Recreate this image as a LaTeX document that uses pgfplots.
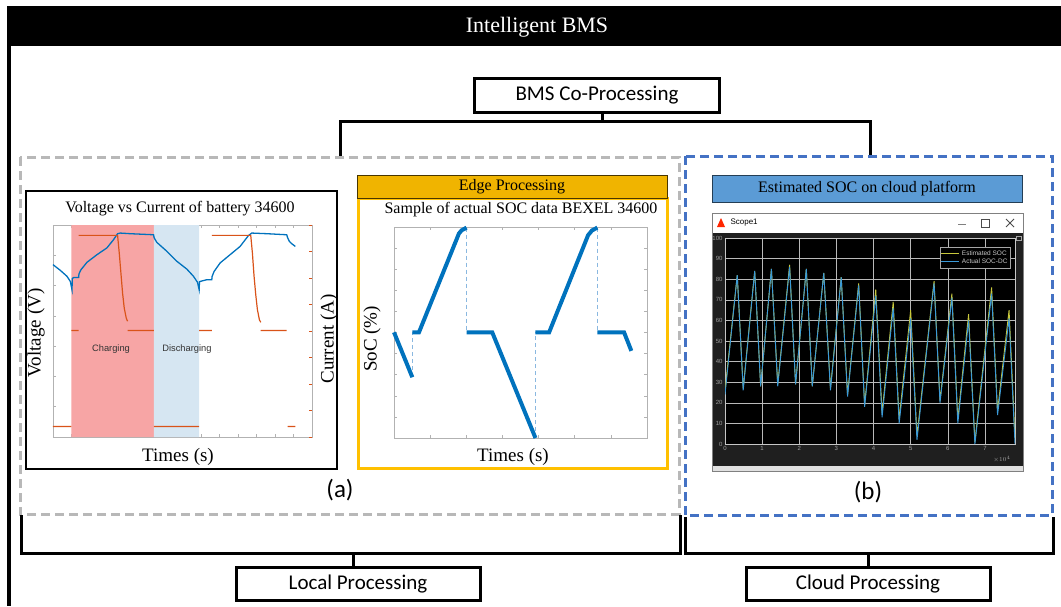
\documentclass[border=0pt]{standalone}
\usepackage{pgfplots}
\pgfplotsset{compat=1.18}
\usepackage{fontspec}
\setmainfont{Liberation Serif}
\newfontfamily\calfont{Carlito}
\newfontfamily\ari{Liberation Sans}
\newcommand\fs[1]{\fontsize{#1}{#1}\selectfont}
\definecolor{mblue}{HTML}{0072BD}
\definecolor{morange}{HTML}{D95319}
\definecolor{shred}{HTML}{F7A5A5}
\definecolor{shblue}{HTML}{D6E6F2}
\definecolor{gold}{HTML}{F0B400}
\definecolor{goldborder}{HTML}{FFC000}
\definecolor{hdrblue}{HTML}{5B9BD5}
\definecolor{dashgray}{HTML}{B8B8B8}
\definecolor{dashblue}{HTML}{4472C4}
\definecolor{scyel}{HTML}{C8C83C}
\definecolor{scblue}{HTML}{3A9AD9}
\definecolor{dashlight}{HTML}{8AB8E0}
\begin{document}
\begin{tikzpicture}
\useasboundingbox (0pt,0pt) rectangle (1061pt,-606pt);
\begin{scope}[x=1pt,y=-1pt]
% title bar and frame
\fill[black] (7,6) rectangle (1061,46);
\node[text=white,font=\fs{22}] at (537,27) {Intelligent BMS};
\draw[line width=3.5pt] (9,46) -- (9,606);
% BMS co-processing
\draw[line width=3pt] (474,78) rectangle (719,112);
\node[font=\calfont\fs{21}] at (597,95) {BMS Co-Processing};
\draw[line width=3pt] (602,112) -- (602,121);
\draw[line width=3pt] (340,156) -- (340,121) -- (870,121) -- (870,156);
% dashed boxes
\draw[dashgray,line width=3pt,dash pattern=on 9pt off 5pt] (20,157) rectangle (679,514);
\draw[dashblue,line width=3pt,dash pattern=on 9pt off 5pt] (685,156) rectangle (1052,515);
% bottom brackets
\draw[line width=3pt] (21,515) -- (21,553) -- (680,553) -- (680,515);
\draw[line width=3pt] (685,517) -- (685,553) -- (1053,553) -- (1053,517);
\draw[line width=3pt] (353,553) -- (353,567);
\draw[line width=3pt] (868,553) -- (868,567);
\draw[line width=3pt] (236,567) rectangle (480,600);
\node[font=\calfont\fs{21}] at (358,584) {Local Processing};
\draw[line width=3pt] (746,567) rectangle (990,600);
\node[font=\calfont\fs{21}] at (868,584) {Cloud Processing};
\node[font=\calfont\fs{25}] at (340,490) {(a)};
\node[font=\calfont\fs{25}] at (868,492) {(b)};
% left panel
\draw[line width=1.5pt] (26,191) rectangle (337,469);
\node[font=\fs{16}] at (180,209) {Voltage vs Current of battery 34600};
\node[font=\fs{19},rotate=90] at (36,333) {Voltage (V)};
\node[font=\fs{19},rotate=90] at (329,339) {Current (A)};
\node[font=\fs{19}] at (178,457) {Times (s)};
% middle panel
\draw[goldborder,line width=3pt] (358,198) rectangle (667,468);
\draw[fill=gold,draw=black!70!gold,line width=1pt] (357,175) rectangle (667,198);
\node[font=\fs{16}] at (512,186.5) {Edge Processing};
\node[font=\fs{16}] at (521,210) {Sample of actual SOC data BEXEL 34600};
\node[font=\fs{19},rotate=90] at (372,339) {SoC (\%)};
\node[font=\fs{19}] at (513,457) {Times (s)};
% right panel
\draw[fill=hdrblue,draw=black!60!hdrblue,line width=1pt] (712,175) rectangle (1022,202);
\node[font=\fs{16}] at (867,189) {Estimated SOC on cloud platform};
\draw[fill=black!88,draw=gray,line width=1pt] (712,213) rectangle (1023,471);
\fill[white] (712.5,213.5) rectangle (1022.5,233);
\fill[black!12] (712.5,466) rectangle (1022.5,470.5);
\fill[red!70!orange] (717,227) -- (721,218) -- (725,227) -- cycle;
\node[font=\ari\fs{8},anchor=west] at (727,223) {Scope1};
\draw[gray,line width=0.8pt] (958,224) -- (966,224);
\draw[black!70,line width=0.8pt] (981,219) rectangle (989,227);
\draw[black!70,line width=0.8pt] (1006,219) -- (1014,227) (1006,227) -- (1014,219);
\draw[gray!70,line width=0.6pt] (1016,236) rectangle (1021,240);
\node[font=\ari\fs{6},text=gray!70,anchor=south east] at (1014,466) {$\times 10^4$};
\end{scope}

% ---------- Left chart: voltage / current ----------
\begin{axis}[at={(53pt,-225pt)},anchor=north west,width=259pt,height=212pt,scale only axis,
  xmin=0,xmax=100,ymin=0,ymax=100,
  xtick={0,7.14,14.29,21.43,28.57,35.71,42.86,50,57.14,64.29,71.43,78.57,85.71,92.86,100},
  ytick={0,14.29,28.57,42.86,57.14,71.43,85.71,100},
  xticklabels={},yticklabels={},xtick pos=both,ytick pos=left,
  tick align=inside,major tick length=3pt,
  axis line style={gray!60},tick style={gray!60,line width=0.6pt},
  clip=false,unbounded coords=jump,axis on top=false]
\addplot[fill=shred,draw=none] coordinates {(7.07,0) (7.07,100) (38.95,100) (38.95,0)} \closedcycle;
\addplot[fill=shblue,draw=none] coordinates {(38.95,0) (38.95,100) (56.43,100) (56.43,0)} \closedcycle;
\addplot[mblue,line width=1.3pt] coordinates {
(0,81.3) (2.83,78.6) (5.40,75.8) (6.68,73.4) (7.33,69.5)
(7.46,74.8) (7.97,75.2) (9.90,75.3)
(10.03,77.0) (10.80,78.9) (13.11,82.4) (16.97,86.0) (20.82,89.2) (23.39,93.1) (24.94,95.9) (25.96,96.2) (29.82,95.9) (38.82,95.4)
(39.07,93.9) (40.10,91.8) (43.96,87.6) (47.81,82.9) (51.67,79.2) (54.24,75.8) (55.78,73.0) (56.43,69.5)
(56.56,73.3) (59.38,74.2) (61.31,74.2)
(61.44,75.8) (62.21,78.1) (64.52,82.1) (68.38,86.0) (72.24,89.9) (75.45,95.0) (76.74,96.2) (82.52,95.9) (90.23,95.4)
(90.62,93.9) (91.26,92.3) (92.16,91.2) (93.57,89.9)};
\addplot[morange,line width=1.2pt] coordinates {
(0,5.0) (7.07,5.0) (nan,nan)
(7.07,50.2) (9.90,50.2) (nan,nan)
(9.90,95.1) (24.94,95.1) (25.58,86.8) (26.22,77.4) (26.86,67.9) (27.51,60.8) (28.28,56.1) (28.79,54.6) (nan,nan)
(28.79,50.2) (38.95,50.2) (nan,nan)
(38.95,5.0) (56.43,5.0) (nan,nan)
(56.43,50.2) (61.31,50.2) (nan,nan)
(61.31,95.1) (76.35,95.1) (76.99,86.8) (77.63,75.8) (78.28,67.1) (78.92,60.1) (79.69,55.3) (80.21,54.1) (nan,nan)
(80.21,50.2) (90.23,50.2) (nan,nan)
(90.62,5.0) (93.57,5.0)};
\node[font=\ari\fs{9.3},text=black!80] at (axis cs:22.4,41.5) {Charging};
\node[font=\ari\fs{9.3},text=black!80] at (axis cs:51.7,41.5) {Discharging};
\end{axis}
\begin{axis}[at={(53pt,-225pt)},anchor=north west,width=259pt,height=212pt,scale only axis,
  xmin=0,xmax=100,ymin=0,ymax=100,axis x line=none,axis y line*=right,
  ytick={0,12.5,25,37.5,50,62.5,75,87.5,100},yticklabels={},
  tick align=inside,major tick length=3pt,
  axis line style={gray!60},y tick style={morange,line width=0.6pt}]
\addplot[draw=none] coordinates {(0,0)};
\end{axis}

% ---------- Middle chart: SOC ----------
\begin{axis}[at={(394pt,-227pt)},anchor=north west,width=253pt,height=211pt,scale only axis,
  xmin=0,xmax=100,ymin=0,ymax=100,
  xtick={0,14.29,28.57,42.86,57.14,71.43,85.71,100},
  ytick={0,10,...,100},
  xticklabels={},yticklabels={},
  tick align=inside,major tick length=3pt,
  axis line style={gray!60},tick style={gray!60,line width=0.6pt},
  clip=false,unbounded coords=jump]
\addplot[dashlight,line width=0.8pt,dash pattern=on 4pt off 3pt] coordinates {
(7.24,28.8) (7.24,50.1) (nan,nan)
(28.68,99.7) (28.68,50.1) (nan,nan)
(55.92,0) (55.92,50.1) (nan,nan)
(80.39,99.7) (80.39,50.1)};
\addplot[mblue,line width=4pt] coordinates {
(0,50.1) (7.24,28.8) (nan,nan)
(7.24,50.1) (9.87,50.1) (25.66,96.9) (26.71,98.4) (28.68,99.7) (nan,nan)
(28.68,50.1) (38.82,50.1) (55.92,0) (nan,nan)
(55.92,50.1) (61.32,50.1) (76.71,96.1) (78.29,98.4) (80.39,99.7) (nan,nan)
(80.39,50.1) (90.92,50.1) (93.82,41.3)};
\end{axis}

% ---------- Right chart: scope ----------
\begin{axis}[at={(725pt,-238pt)},anchor=north west,width=290pt,height=206pt,scale only axis,
  xmin=0,xmax=7.81,ymin=0,ymax=100,
  xtick={0,1,...,7},ytick={0,10,...,100},
  grid=major,grid style={gray!55,line width=0.4pt},
  axis background/.style={fill=black},
  axis line style={gray!45},
  tick style={draw=none},
  /pgf/number format/assume math mode=true,
  ticklabel style={font=\ari\fs{6},text=gray!75},
  xticklabel style={yshift=1pt},yticklabel style={xshift=1pt},
  legend style={at={(0.985,0.955)},anchor=north east,fill=black,draw=gray!70,
    text=gray!45,font=\ari\fs{6.5},inner sep=1pt,row sep=-2pt},
  legend cell align=left,
  legend image code/.code={\draw[#1,line width=1pt] (0pt,0pt) -- (18pt,0pt);}]
\addplot[scyel,line width=0.9pt] coordinates {
(0,26) (0.33,82) (0.49,27) (0.80,84) (0.96,28) (1.25,85) (1.42,29) (1.74,87) (1.90,29)
(2.19,85) (2.35,28) (2.66,83) (2.84,27) (3.13,81) (3.30,24) (3.60,78) (3.76,19)
(4.06,75) (4.23,15) (4.53,69) (4.69,12) (5.00,65) (5.17,4) (5.63,79) (5.79,21)
(6.11,73) (6.27,12) (6.56,63) (6.73,1) (7.18,76) (7.34,16) (7.65,65) (7.81,3)};
\addlegendentry{Estimated SOC}
\addplot[scblue,line width=0.9pt] coordinates {
(0,24) (0.33,82) (0.49,26) (0.80,84) (0.96,28) (1.25,85) (1.42,28) (1.74,86) (1.90,29)
(2.19,85) (2.35,28) (2.66,83) (2.84,26) (3.13,81) (3.30,23) (3.60,77) (3.76,18)
(4.06,72) (4.23,13) (4.53,66) (4.69,10) (5.00,61) (5.17,2) (5.63,78) (5.79,20)
(6.11,71) (6.27,10) (6.56,60) (6.73,0) (7.18,73) (7.34,14) (7.65,61) (7.81,0)};
\addlegendentry{Actual SOC-DC}
\end{axis}
\end{tikzpicture}
\end{document}
